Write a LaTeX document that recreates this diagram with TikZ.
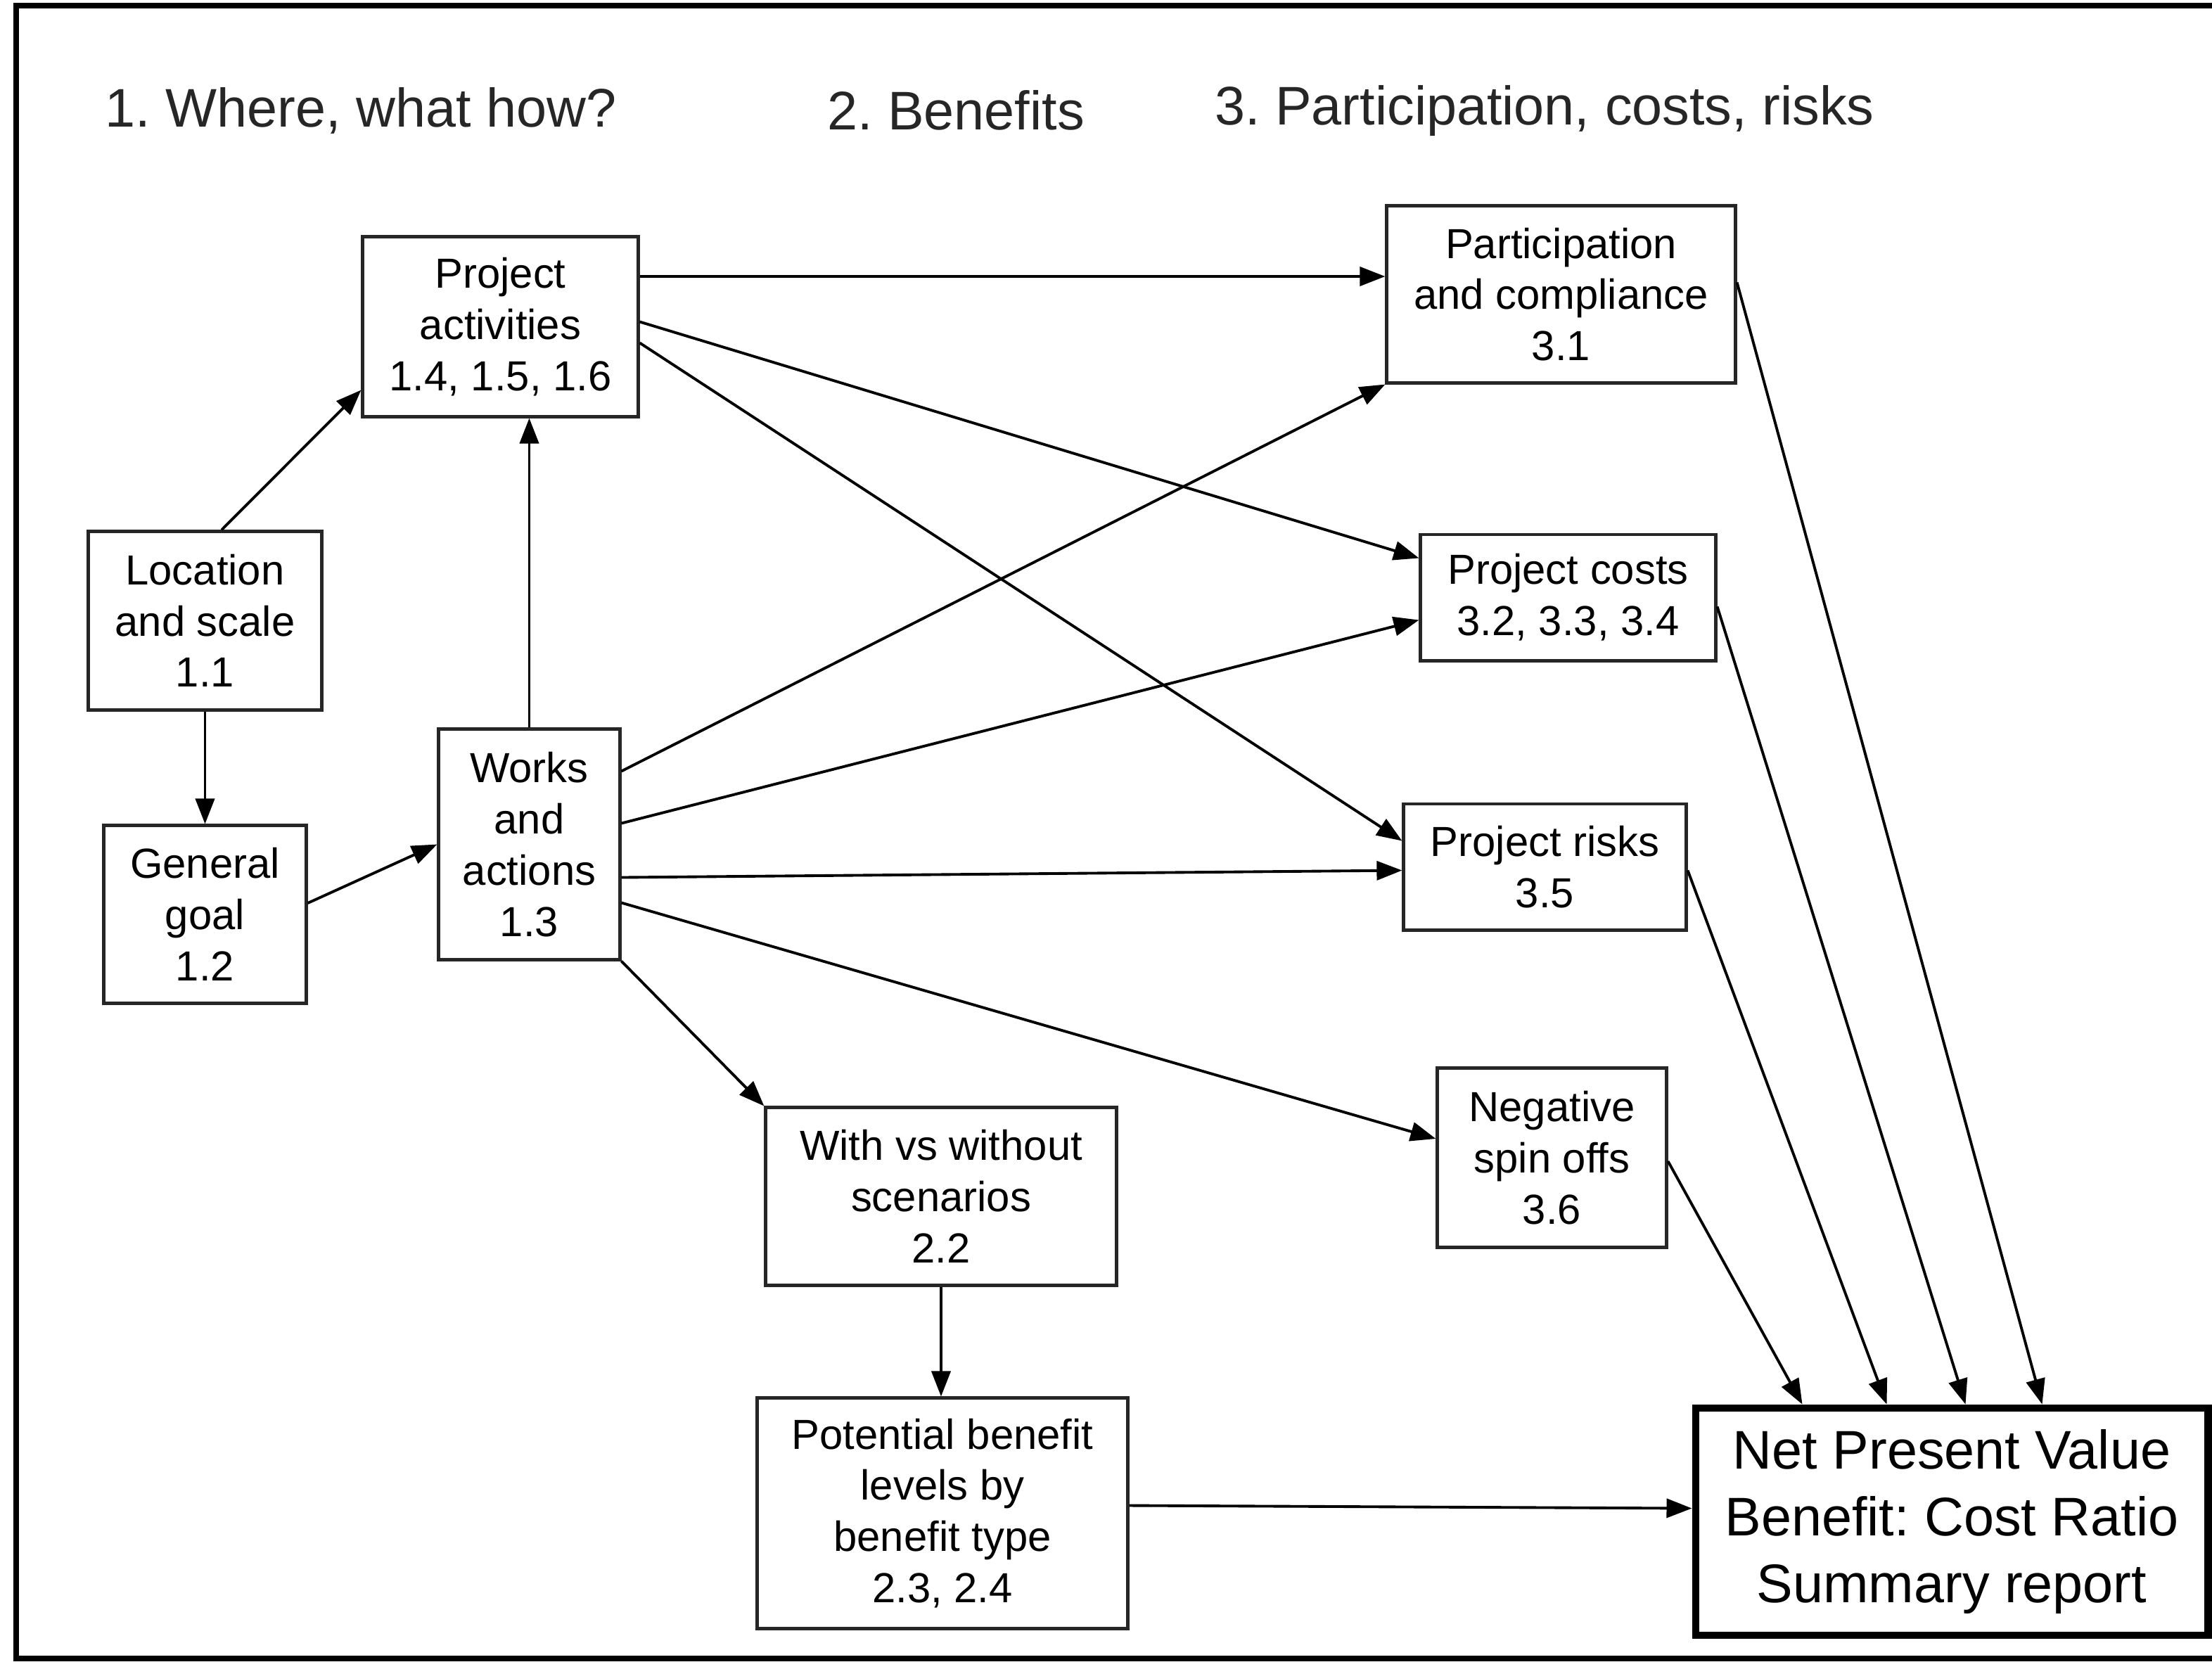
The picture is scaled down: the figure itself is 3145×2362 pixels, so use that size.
\documentclass[tikz,border=0pt]{standalone}
\usepackage{fontspec}
\setmainfont{Liberation Sans}
\usetikzlibrary{arrows.meta,calc}
\frenchspacing
\begin{document}
\begin{tikzpicture}[x=0.01cm,y=-0.01cm,
  box/.style={draw=black!85,line width=1.4pt,rectangle,inner sep=0pt,align=center,
    font=\fontsize{17}{20.7}\selectfont\frenchspacing},
  bigbox/.style={draw=black,line width=3pt,rectangle,inner sep=0pt,align=center,
    font=\fontsize{22}{27}\selectfont\frenchspacing},
  head/.style={inner sep=0pt,text=black!85,font=\fontsize{22}{26}\selectfont\frenchspacing},
  conn/.style={line width=1.1pt,-{Triangle[length=0.36cm,width=0.27cm]}}]
\useasboundingbox (0,0) rectangle (3145,2362);
\draw[line width=2.2pt] (23,8) rectangle (3220,2358);
% headings
\node[head] (h1) at (513,157) {1. Where, what how?};
\node[head] (h2) at (1359,157) {2. Benefits};
\node[head] (h3) at (2196,157) {3. Participation, costs, risks};
% boxes
\node[box,minimum width=3.91cm,minimum height=2.55cm] (pa) at (711.5,464.5) {Project\\activities\\1.4, 1.5, 1.6};
\node[box,minimum width=3.31cm,minimum height=2.53cm] (loc) at (291.5,882.5) {Location\\and scale\\1.1};
\node[box,minimum width=2.87cm,minimum height=2.52cm] (goal) at (291.5,1300) {General\\goal\\1.2};
\node[box,minimum width=2.57cm,minimum height=3.27cm] (works) at (752.5,1200.5) {Works\\and\\actions\\1.3};
\node[box,minimum width=4.95cm,minimum height=2.51cm] (part) at (2219.5,418.5) {Participation\\and compliance\\3.1};
\node[box,minimum width=4.19cm,minimum height=1.79cm] (cost) at (2229.5,849.5) {Project costs\\3.2, 3.3, 3.4};
\node[box,minimum width=4.01cm,minimum height=1.79cm] (risk) at (2196.5,1232.5) {Project risks\\3.5};
\node[box,minimum width=3.25cm,minimum height=2.54cm] (neg) at (2206.5,1646) {Negative\\spin offs\\3.6};
\node[box,minimum width=4.98cm,minimum height=2.52cm] (with) at (1338,1701) {With vs without\\scenarios\\2.2};
\node[box,minimum width=5.26cm,minimum height=3.27cm] (pot) at (1340,2151.5) {Potential benefit\\levels by\\benefit type\\2.3, 2.4};
\node[bigbox,minimum width=7.28cm,minimum height=3.23cm] (npv) at (2775,2163.5) {Net Present Value\\Benefit: Cost Ratio\\Summary report};
% connectors
\draw[conn] ($(loc.north)+(23.5,0)$) -- ($(pa.south west)+(0,-40)$);
\draw[conn] (loc.south) -- (goal.south |- goal.north);
\draw[conn] ($(goal.east)+(0,-16)$) -- (works.west);
\draw[conn] (works.north) -- (works.north |- pa.south);
\draw[conn] ($(pa.east)+(0,-71.5)$) -- ($(part.west)+(0,-25.5)$);
\draw[conn] ($(pa.east)+(0,-7)$) -- ($(cost.north west)+(0,36)$);
\draw[conn] ($(pa.east)+(0,23)$) -- ($(risk.north west)+(0,55)$);
\draw[conn] ($(works.north east)+(0,62)$) -- (part.south west);
\draw[conn] ($(works.east)+(0,-30)$) -- ($(cost.south west)+(0,-60)$);
\draw[conn] ($(works.east)+(0,47)$) -- ($(risk.west)+(0,5)$);
\draw[conn] ($(works.east)+(0,83)$) -- ($(neg.west)+(0,-27)$);
\draw[conn] (works.south east) -- (with.north west);
\draw[conn] (with.south) -- (with.south |- pot.north);
\draw[conn] ($(pot.east)+(0,-11)$) -- ($(npv.west)+(0,-19)$);
\draw[conn] ($(neg.east)+(0,5)$) -- ($(npv.north west)+(157,0)$);
\draw[conn] ($(risk.east)+(0,5)$) -- ($(npv.north west)+(277,0)$);
\draw[conn] ($(cost.east)+(0,13)$) -- ($(npv.north west)+(389,0)$);
\draw[conn] ($(part.east)+(0,-17)$) -- ($(npv.north west)+(498,0)$);
\end{tikzpicture}
\end{document}
